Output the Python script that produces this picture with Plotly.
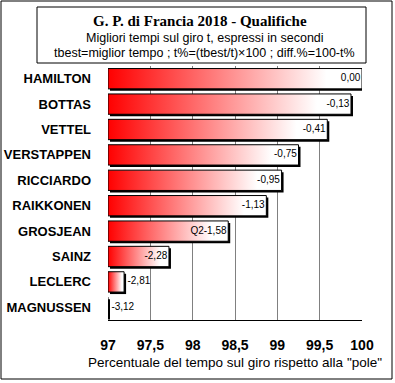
import plotly.graph_objects as go

drivers = ["HAMILTON", "BOTTAS", "VETTEL", "VERSTAPPEN", "RICCIARDO",
           "RAIKKONEN", "GROSJEAN", "SAINZ", "LECLERC", "MAGNUSSEN"]
diff_pct = [0.00, -0.13, -0.41, -0.75, -0.95, -1.13, -1.58, -2.28, -2.81, -3.12]
label_prefix = ["", "", "", "", "", "", "Q2", "", "", ""]
x_ticks = [97, 97.5, 98, 98.5, 99, 99.5, 100]
x_tick_text = ["97", "97,5", "98", "98,5", "99", "99,5", "100"]

pct = [100 + d for d in diff_pct]
base = 97
half = 0.4
W, H = 395, 383
L, R, T, B = 108, 33, 66, 63
PW, PH = W - L - R, H - T - B
px_x = (100 - 97) / PW
px_y = 10 / PH


def fx(p):  # pixel x -> paper
    return (p - L) / PW


def fy(p):  # pixel y (from top) -> paper
    return 1 + (T - p) / PH


fig = go.Figure()
for i, v in enumerate(pct):
    dx, dy = 2 * px_x, 2 * px_y
    fig.add_trace(go.Scatter(
        x=[base + dx, v + dx, v + dx, base + dx, base + dx],
        y=[i - half + dy, i - half + dy, i + half + dy, i + half + dy, i - half + dy],
        fill="toself", fillcolor="black", mode="lines",
        line=dict(color="black", width=0), hoverinfo="skip", showlegend=False))
    fig.add_trace(go.Scatter(
        x=[base, v, v, base, base],
        y=[i - half, i - half, i + half, i + half, i - half],
        fill="toself", mode="lines",
        fillgradient=dict(type="horizontal",
                          colorscale=[[0, "#ff0000"], [0.86, "#ffffff"], [1, "#ffffff"]]),
        line=dict(color="black", width=1), hoverinfo="skip", showlegend=False))

texts = [p + ("%.2f" % d).replace(".", ",") for p, d in zip(label_prefix, diff_pct)]
inside = [v > 97.5 for v in pct]
fig.add_trace(go.Scatter(
    x=[v - 0.02 for v, ins in zip(pct, inside) if ins],
    y=[i for i, ins in enumerate(inside) if ins],
    text=[t for t, ins in zip(texts, inside) if ins],
    mode="text", textposition="middle left",
    textfont=dict(family="Arial", size=10, color="black"),
    hoverinfo="skip", showlegend=False))
fig.add_trace(go.Scatter(
    x=[max(v, base) + 0.04 for v, ins in zip(pct, inside) if not ins],
    y=[i for i, ins in enumerate(inside) if not ins],
    text=[t for t, ins in zip(texts, inside) if not ins],
    mode="text", textposition="middle right",
    textfont=dict(family="Arial", size=10, color="black"),
    hoverinfo="skip", showlegend=False, cliponaxis=False))

fig.update_layout(
    width=W, height=H,
    margin=dict(l=L, r=R, t=T, b=B, autoexpand=False),
    paper_bgcolor="white", plot_bgcolor="white",
    font=dict(family="Arial", color="black"),
    xaxis=dict(range=[97, 100], tickvals=x_ticks, ticktext=x_tick_text,
               showgrid=True, gridcolor="#808080", gridwidth=1,
               showline=True, linecolor="black", linewidth=1, mirror=False,
               ticks="", zeroline=False, automargin=False, ticklabelstandoff=12,
               tickfont=dict(family="Arial", size=14, color="black", weight="bold"),
               title=dict(text='Percentuale del tempo sul giro rispetto alla "pole"',
                          font=dict(family="Arial", size=13.5), standoff=5)),
    yaxis=dict(range=[9.5, -0.5], tickvals=list(range(len(drivers))), ticktext=drivers,
               showgrid=False, zeroline=False, showline=False, ticks="", automargin=False,
               tickfont=dict(family="Arial", size=13, color="black", weight="bold"),
               ticklabelstandoff=16),
    shapes=[
        dict(type="rect", xref="paper", yref="paper", x0=fx(1), x1=fx(392),
             y0=fy(379), y1=fy(1), line=dict(color="black", width=1)),
        dict(type="rect", xref="paper", yref="paper", x0=fx(37), x1=fx(366),
             y0=fy(63), y1=fy(7), line=dict(color="black", width=1)),
    ],
    annotations=[
        dict(text="<b>G. P. di Francia 2018 - Qualifiche</b>", xref="paper", yref="paper",
             x=fx(200), y=fy(21), showarrow=False,
             font=dict(family="Liberation Serif", size=15), xanchor="center", yanchor="middle"),
        dict(text="Migliori tempi sul giro t, espressi in secondi", xref="paper", yref="paper",
             x=fx(205), y=fy(38), showarrow=False,
             font=dict(family="Arial", size=12.5), xanchor="center", yanchor="middle"),
        dict(text="tbest=miglior tempo ; t%=(tbest/t)×100 ; diff.%=100-t%", xref="paper", yref="paper",
             x=fx(204), y=fy(53), showarrow=False,
             font=dict(family="Arial", size=12.5), xanchor="center", yanchor="middle"),
    ],
)

fig.write_html("out.html", config={"displayModeBar": False},
               post_script="document.body.style.margin='0';")
